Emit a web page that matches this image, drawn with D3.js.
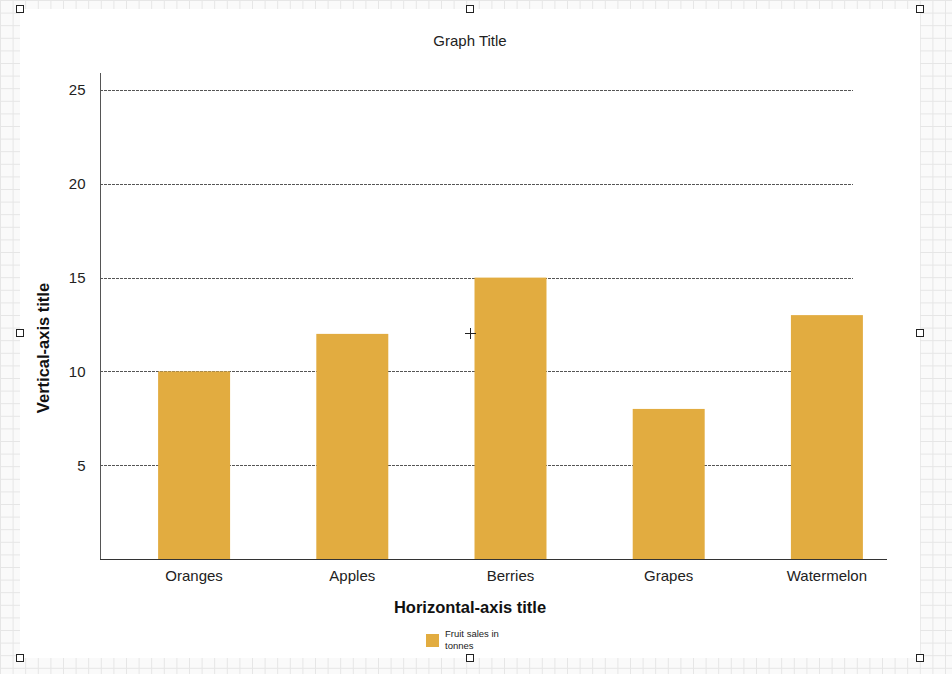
<!DOCTYPE html>
<html><head><meta charset="utf-8">
<script src="https://cdn.jsdelivr.net/npm/d3@7"></script>
<style>html,body{margin:0;padding:0;background:#fff;}svg{display:block;font-family:"Liberation Sans",Arial,sans-serif;}</style>
</head><body>
<svg id="c" width="952" height="674"></svg>
<script>
const categories = ["Oranges", "Apples", "Berries", "Grapes", "Watermelon"];
const values = [10, 12, 15, 8, 13];
const yTicks = [5, 10, 15, 20, 25];
const seriesName = ["Fruit sales in", "tonnes"];
const title = "Graph Title";
const xTitle = "Horizontal-axis title";
const yTitle = "Vertical-axis title";

const svg = d3.select("#c");
const W = 952, H = 674;

// editor grid background
const g0 = svg.append("g");
g0.append("rect").attr("width", W).attr("height", H).attr("fill", "#fafafa");
for (let x = 0.5; x < W; x += 12.6) g0.append("line").attr("x1", x).attr("x2", x).attr("y1", 0).attr("y2", H).attr("stroke", "#e6e6e6");
for (let y = 0.5; y < H; y += 12.6) g0.append("line").attr("y1", y).attr("y2", y).attr("x1", 0).attr("x2", W).attr("stroke", "#e6e6e6");
svg.append("rect").attr("x", 20).attr("y", 9).attr("width", 900).attr("height", 649).attr("fill", "#fff");

const x = d3.scaleBand().domain(categories).range([115, 906]).paddingInner(0.545).paddingOuter(0.2725);
const y = d3.scaleLinear().domain([0, 25]).range([559, 90]);

// gridlines
svg.append("g").selectAll("line").data(yTicks).join("line")
  .attr("x1", 100).attr("x2", 853)
  .attr("y1", d => Math.round(y(d)) + 0.5).attr("y2", d => Math.round(y(d)) + 0.5)
  .attr("stroke", "#555").attr("stroke-width", 1).attr("stroke-dasharray", "3,1");

// bars
svg.append("g").selectAll("rect").data(values).join("rect")
  .attr("x", (d, i) => x(categories[i]))
  .attr("width", x.bandwidth())
  .attr("y", d => y(d))
  .attr("height", d => y(0) - y(d))
  .attr("fill", "#e2ac40");

// y axis
const ya = svg.append("g").attr("transform", "translate(100.5,0)")
  .call(d3.axisLeft(y).tickValues(yTicks).tickSize(0).tickPadding(15));
ya.select(".domain").remove();
ya.selectAll("text").attr("font-size", 15).attr("fill", "#222").attr("font-family", "Liberation Sans, Arial, sans-serif");
svg.append("line").attr("x1", 100.5).attr("x2", 100.5).attr("y1", 73).attr("y2", 559).attr("stroke", "#555");

// x axis
const xa = svg.append("g").attr("transform", "translate(0,559.5)")
  .call(d3.axisBottom(x).tickSize(0).tickPadding(11));
xa.select(".domain").remove();
xa.selectAll("text").attr("font-size", 15).attr("fill", "#222").attr("font-family", "Liberation Sans, Arial, sans-serif");
svg.append("line").attr("x1", 100).attr("x2", 887).attr("y1", 559.5).attr("y2", 559.5).attr("stroke", "#333");

// titles
svg.append("text").attr("x", 470).attr("y", 46).attr("text-anchor", "middle").attr("font-size", 15).attr("fill", "#222").text(title);
svg.append("text").attr("x", 470).attr("y", 613).attr("text-anchor", "middle").attr("font-size", 16.5).attr("font-weight", "bold").attr("fill", "#111").text(xTitle);
svg.append("text").attr("transform", "translate(49,348) rotate(-90)").attr("text-anchor", "middle").attr("font-size", 16.5).attr("font-weight", "bold").attr("fill", "#111").text(yTitle);

// legend
svg.append("rect").attr("x", 426).attr("y", 634).attr("width", 13).attr("height", 13).attr("fill", "#e2ac40");
const lt = svg.append("text").attr("x", 445).attr("y", 637).attr("font-size", 9.5).attr("fill", "#222");
lt.selectAll("tspan").data(seriesName).join("tspan").attr("x", 445).attr("dy", (d, i) => i ? 11.5 : 0).text(d => d);

// editor handles and crosshair
const handles = [[20,9],[470,9],[920,9],[20,333],[920,333],[20,658],[470,658],[920,658]];
svg.append("g").selectAll("rect").data(handles).join("rect")
  .attr("x", d => d[0] - 3.5).attr("y", d => d[1] - 3.5).attr("width", 7).attr("height", 7)
  .attr("fill", "#fff").attr("stroke", "#222").attr("stroke-width", 1);
svg.append("path").attr("d", "M465,333.5H476M470.5,328V339").attr("stroke", "#222").attr("stroke-width", 1);
</script>
</body></html>
